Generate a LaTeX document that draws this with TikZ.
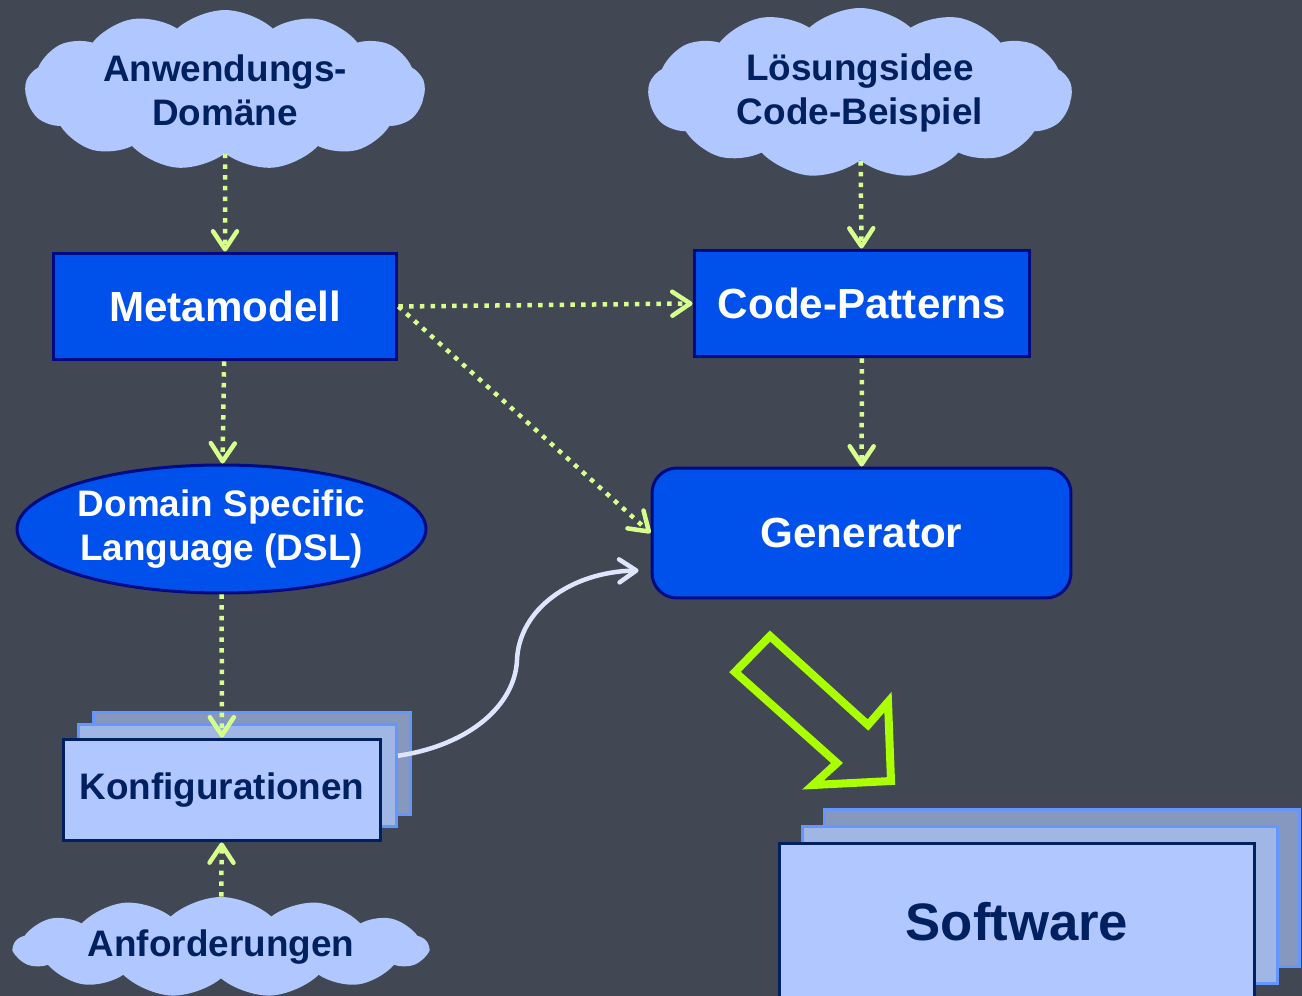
\documentclass[tikz,border=0pt]{standalone}
\usepackage{fontspec}
\setmainfont{Liberation Sans}
\usepackage{tikz}
\usetikzlibrary{arrows.meta}
\usetikzlibrary{positioning,calc,shapes.geometric,shapes.symbols}
\usepackage{xcolor}

\definecolor{hintergrund}{RGB}{65,71,83}
\definecolor{kastenblau}{RGB}{0,80,235}
\definecolor{randnavy}{RGB}{0,10,130}
\definecolor{wolkeblau}{RGB}{176,200,255}
\definecolor{textnavy}{RGB}{0,32,96}
\definecolor{punktgruen}{RGB}{214,255,140}
\definecolor{pfeilgruen}{RGB}{170,255,0}
\definecolor{kurvenweiss}{RGB}{222,230,255}
\definecolor{blatthinten}{RGB}{135,152,190}
\definecolor{blattmitte}{RGB}{160,182,228}
\definecolor{blattrand}{RGB}{100,150,255}

\tikzset{
	wolke/.style={cloud, cloud puffs=13, cloud puff arc=85, cloud ignores aspect,
		fill=wolkeblau, draw=none, text=textnavy, align=center, inner sep=0pt,
		font=\bfseries\fontsize{21}{25}\selectfont},
	kasten/.style={rectangle, fill=kastenblau, draw=randnavy, line width=0.06cm,
		text=white, inner sep=0pt, font=\bfseries\fontsize{24}{29}\selectfont},
	blatt/.style={rectangle, inner sep=0pt, line width=0.06cm},
	punktpfeil/.style={color=punktgruen, line width=0.09cm, dash pattern=on 0.09cm off 0.125cm,
		-{Straight Barb[length=0.36cm,width=0.48cm,round]}},
	kurvenpfeil/.style={draw=kurvenweiss, line width=0.09cm,
		-{Straight Barb[length=0.34cm,width=0.46cm,round]}}
}

\begin{document}
\begin{tikzpicture}[x=0.02cm,y=-0.02cm]
	\useasboundingbox (0,0) rectangle (1302,996);
	\fill[hintergrund] (0,0) rectangle (1302,996);

	\node[wolke, minimum width=8cm, minimum height=3.2cm] (anw) at (225,90) {Anwendungs-\\Domäne};
	\node[wolke, minimum width=8.48cm, minimum height=3.4cm] (loes) at (860,93) {Lösungsidee\\Code-Beispiel};
	\node[wolke, minimum width=8.28cm, minimum height=2cm] (anf) at (221,947) {Anforderungen};

	\node[kasten, minimum width=6.88cm, minimum height=2.14cm] (meta) at (225,306.5) {Metamodell};
	\node[kasten, minimum width=6.72cm, minimum height=2.14cm] (cp) at (862,303.5) {Code-Patterns};
	\node[kasten, rounded corners=0.5cm, minimum width=8.38cm, minimum height=2.6cm] (gen) at (861.5,533) {Generator};
	\node[ellipse, fill=kastenblau, draw=randnavy, line width=0.06cm, text=white, align=center,
		inner sep=0pt, minimum width=8.18cm, minimum height=2.56cm,
		font=\bfseries\fontsize{21}{25}\selectfont] (dsl) at (221.5,529) {Domain Specific\\Language (DSL)};

	% Stapel
	\foreach \n/\dx/\dy/\c in {2/30/-24.5/blatthinten,1/15.5/-12.5/blattmitte}
		\node[blatt, fill=\c, draw=blattrand, minimum width=6.36cm, minimum height=2.06cm] (konfig-\n) at ($(222,788)+(\dx,\dy)$) {};
	\node[blatt, fill=wolkeblau, draw=textnavy, minimum width=6.36cm, minimum height=2.04cm,
		text=textnavy, font=\bfseries\fontsize{21}{25}\selectfont] (konfig) at (222,790) {Konfigurationen};

	\foreach \n/\dx/\dy/\c in {2/45/-34/blatthinten,1/23/-17/blattmitte}
		\node[blatt, fill=\c, draw=blattrand, minimum width=9.52cm, minimum height=3.16cm] (soft-\n) at ($(1017,922)+(\dx,\dy)$) {};
	\node[blatt, fill=wolkeblau, draw=textnavy, minimum width=9.52cm, minimum height=3.16cm,
		text=textnavy, font=\bfseries\fontsize{30}{36}\selectfont] (soft) at (1017,922) {Software};

	\path[punktpfeil] (anw) edge (meta)
		(loes) edge (cp)
		(meta.east) edge (cp.west)
		(meta.east) edge (gen.west)
		(meta) edge (dsl)
		(cp) edge (gen)
		(dsl) edge (konfig)
		(anf) edge (konfig);

	\draw[kurvenpfeil, shorten >=0.24cm] (konfig-1.7) .. controls (470,745) and (515,705) .. (517,660)
		.. controls (519,610) and (570,572) .. (gen.190);

	\draw[pfeilgruen, line width=0.16cm, line join=miter] (770,636) -- (735,672) -- (837,763) -- (813,785)
		-- (891,781) -- (888,702) -- (868,725) -- cycle;
\end{tikzpicture}
\end{document}
